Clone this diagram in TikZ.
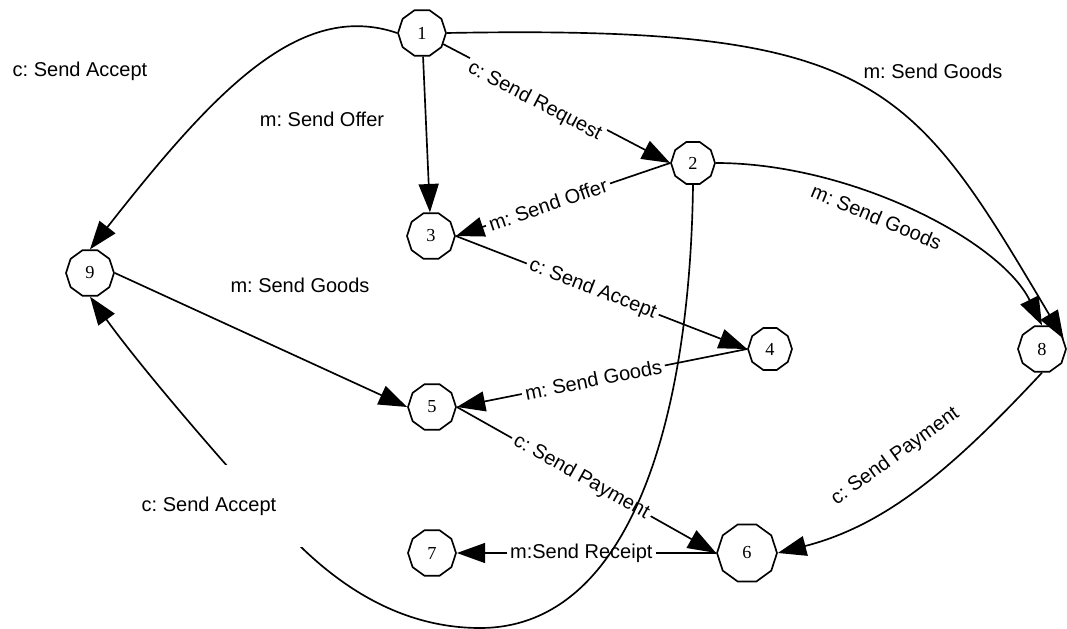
\documentclass[tikz,border=0pt]{standalone}
\usepackage{fontspec}
\setmainfont{Liberation Serif}
\newfontfamily\lblfont{Liberation Sans}
\usetikzlibrary{shapes.geometric,arrows.meta}
\frenchspacing
\begin{document}
\begin{tikzpicture}[x=0.6pt, y=-0.6pt, line width=1pt,
  state/.style={regular polygon, regular polygon sides=10, draw, inner sep=0pt, minimum size=28.8pt, font=\fontsize{11}{13}\selectfont},
  lbl/.style={font=\lblfont\fontsize{12}{14}\selectfont, inner sep=1pt},
  onl/.style={lbl, sloped, fill=white, inner sep=2pt},
  trans/.style={-{Triangle[length=17pt,width=12pt]}}]
\useasboundingbox (0,0) rectangle (1067,629);
\node[state] (sid1) at (422,33){1};
\node[state, minimum size=26.4pt] (sid2) at (693,163){2};
\node[state] (sid3) at (431,236){3};
\node[state, minimum size=26.4pt] (sid4) at (770,349){4};
\node[state] (sid5) at (432,407){5};
\node[state, minimum size=36pt] (sid6) at (747,553){6};
\node[state] (sid7) at (432,553){7};
\node[state] (sid8) at (1042,349){8};
\node[state] (sid9) at (90,273){9};
\draw[trans](sid1.west) .. controls (300,0) and (215,90) .. (sid9.north);
\draw[trans](sid1.east) .. controls (878,25) and (910,80) .. (sid8.25);
\draw[trans](sid1) -- (sid3);
\draw[trans](sid1) -- node[onl, pos=0.42, yshift=-5pt]{c: Send Request} (sid2.west);
\draw[trans](sid2.west) -- node[onl, pos=0.57]{m: Send Offer} (sid3.east);
\draw[trans](sid2.east) .. controls (850,163) and (1000,240) .. node[lbl, sloped, anchor=north, pos=0.42, inner ysep=7pt]{m: Send Goods} (sid8.north);
\draw[trans](sid3.east) -- node[onl, pos=0.47]{c: Send Accept} (sid4.west);
\draw[trans](sid4.west) -- node[onl, pos=0.53]{m: Send Goods} (sid5.east);
\draw[trans](sid9.east) -- (sid5.west);
\draw[trans](sid5.east) -- node[onl, pos=0.48]{c: Send Payment} (sid6.west);
\draw[trans](sid6.west) -- node[onl, pos=0.52]{m:Send Receipt} (sid7.east);
\draw[trans](sid8.south) .. controls (954,467) and (887,525) .. node[lbl, sloped, anchor=south, pos=0.5, inner ysep=17pt]{c: Send Payment} (sid6.east);
\node[lbl] (lacc1) at (80,71){c: Send Accept};
\node[lbl] (loff1) at (322,119){m: Send Offer};
\node[lbl] (lgds1) at (933,71){m: Send Goods};
\node[lbl] (lgds2) at (300,285){m: Send Goods};
\draw[trans](sid2.south) .. controls (690,420) and (630,628) .. (480,628) .. controls (400,628) and (340,585) .. (300,546) .. controls (260,505) and (150,380) .. (sid9.south);
\node[lbl, fill=white, inner xsep=16pt, inner ysep=19pt] (lacc2) at (209,506){c: Send Accept};
\end{tikzpicture}
\end{document}
